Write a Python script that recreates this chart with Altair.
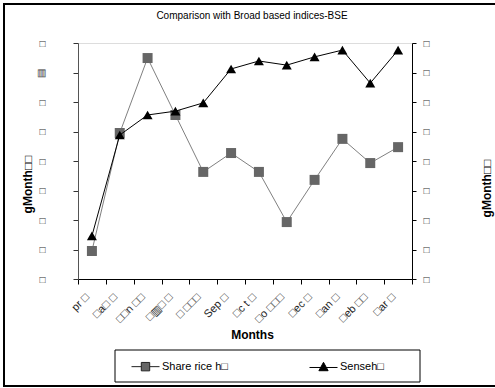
import altair as alt
import pandas as pd

# ---- data ----
months = ["pr □", "□a□ □", "□□n □□", "□▥□ □", "□ □□□", "Sep □",
          "□c t □", "□o □□□", "□ec □", "□an □", "□eb □□", "□ar □"]
share_price = [0.95, 4.95, 7.49, 5.56, 3.63, 4.27, 3.63, 1.93, 3.36, 4.75, 3.93, 4.47]
sensex = [1.46, 4.88, 5.56, 5.69, 5.97, 7.12, 7.39, 7.25, 7.53, 7.76, 6.64, 7.76]
series_names = ["Share rice h□", "Senseh□"]
y_ticks = [0, 1, 2, 3, 4, 5, 6, 7, 8]

FONT = "Liberation Sans"
W, H = 334, 236

df = pd.DataFrame({"month": months, "share": share_price, "sensex": sensex})
long_df = pd.DataFrame({
    "month": months * 2,
    "series": [series_names[0]] * len(months) + [series_names[1]] * len(months),
    "value": share_price + sensex,
})

x_scale = alt.Scale(type="band", paddingInner=0, paddingOuter=0)
x_axis = alt.Axis(
    orient="bottom",
    title="Months", titleFont=FONT, titleFontSize=12, titleFontWeight="bold",
    titleColor="black", titleX=174, titleY=55, titleBaseline="middle",
    labelAngle=315, labelFont=FONT, labelFontSize=11, labelColor="#222222",
    labelPadding=7, labelOffset=-9, tickBand="extent", tickSize=5, tickColor="black",
    domainColor="black", grid=False,
)
X = alt.X("month:N", sort=months, scale=x_scale, axis=x_axis)

y_left = alt.Axis(
    orient="left", values=y_ticks,
    labelExpr="datum.value == 7 ? '▥' : '□'",
    labelFont=FONT, labelFontSize=10, labelColor="#333333", labelPadding=28,
    tickSize=5, tickColor="#333333", domainColor="#555555", grid=False,
    title="gMonth□□", titleFont=FONT, titleFontSize=12, titleFontWeight="bold",
    titleColor="black", titleAngle=270, titleX=-51, titleY=141,
    titleBaseline="middle", titleAlign="center",
)
y_right = alt.Axis(
    orient="right", values=y_ticks, labelExpr="'□'",
    labelFont=FONT, labelFontSize=10, labelColor="#333333", labelPadding=7,
    tickSize=4, tickColor="black", domainColor="black", grid=False,
    title="gMonth□□", titleFont=FONT, titleFontSize=12, titleFontWeight="bold",
    titleColor="black", titleAngle=270, titleX=74, titleY=145,
    titleBaseline="middle", titleAlign="center",
)

y_scale = alt.Scale(domain=[0, 8], nice=False, zero=True)

base = alt.Chart(df)

# share price series (left axis): line + square markers
share = base.mark_line(
    color="#808080", strokeWidth=1,
    point=alt.OverlayMarkDef(shape="square", filled=True, color="#666666", size=100, opacity=1),
).encode(x=X, y=alt.Y("share:Q", scale=y_scale, axis=y_left))

# sensex series (right axis)
sx = base.mark_line(
    color="black", strokeWidth=1,
    point=alt.OverlayMarkDef(shape="triangle-up", filled=True, color="black", size=100, opacity=1),
).encode(x=X, y=alt.Y("sensex:Q", scale=y_scale, axis=y_right))

# legend-only layer (no rows drawn; legend comes from the fixed scale domain)
sq_path = "M-1,0H-0.3M0.3,0H1M-0.3,-0.3H0.3V0.3H-0.3Z"
tri_path = "M-1,0.05H1M0,-0.32L0.33,0.28L-0.33,0.28Z"
leg = alt.Legend(
    orient="none", legendX=53, legendY=309, direction="horizontal",
    title=None, padding=0, columnPadding=79, labelOffset=2,
    labelFont=FONT, labelFontSize=11, labelColor="black",
    symbolSize=784, symbolStrokeWidth=1, symbolOpacity=1,
)
legend_layer = alt.Chart(long_df).transform_filter("false").mark_point(
    filled=True, size=784, strokeWidth=1, opacity=1
).encode(
    fill=alt.Fill("series:N", scale=alt.Scale(domain=series_names,
                  range=["#666666", "#000000"]), legend=leg),
    stroke=alt.Stroke("series:N", scale=alt.Scale(domain=series_names,
                      range=["#222222", "#000000"]), legend=leg),
    shape=alt.Shape("series:N", scale=alt.Scale(domain=series_names,
                    range=[sq_path, tri_path]), legend=leg),
)

frame_data = alt.Data(values=[{"k": 0}])
outer_frame = alt.Chart(frame_data).mark_rect(
    fill="transparent", stroke="black", strokeWidth=2
).encode(x=alt.value(-74), x2=alt.value(440), y=alt.value(-39), y2=alt.value(343))
legend_frame = alt.Chart(frame_data).mark_rect(
    fill="transparent", stroke="black", strokeWidth=1
).encode(x=alt.value(37), x2=alt.value(342), y=alt.value(307), y2=alt.value(339))

chart = alt.layer(
    share, sx, outer_frame, legend_frame, legend_layer
).resolve_scale(y="independent").properties(
    width=W, height=H,
    autosize=alt.AutoSizeParams(type="none"),
    padding={"left": 78, "top": 43, "right": 83, "bottom": 109},
    title=alt.TitleParams(
        "Comparison with Broad based indices-BSE", font=FONT, fontSize=10,
        fontWeight="normal", color="black", anchor="middle", frame="group",
        offset=-18, dx=7,
    ),
).configure_view(
    strokeWidth=0, stroke="transparent", strokeOpacity=0
).configure_axisTop(
    domain=False, ticks=False, labels=False
).configure(background="white")

chart.save("out.html", embed_options={"renderer": "svg", "actions": False})
